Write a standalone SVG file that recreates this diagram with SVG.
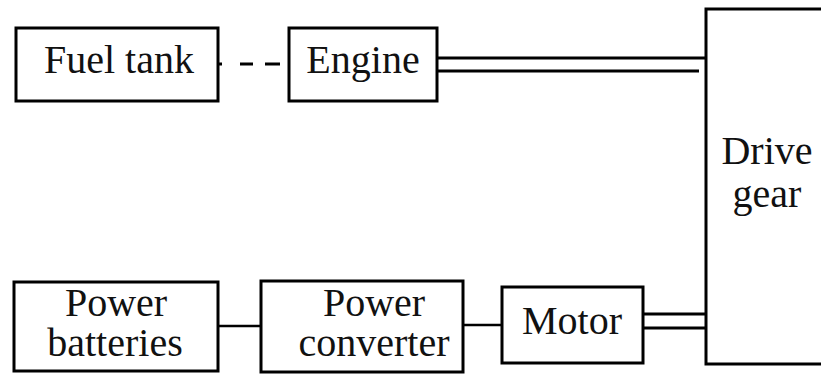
<svg xmlns="http://www.w3.org/2000/svg" width="821" height="374" viewBox="0 0 821 374">
<style>
.box{fill:#fff;stroke:#000;stroke-width:3}
.t{font-family:"Liberation Serif","Times New Roman",serif;font-size:40px;fill:#111;text-anchor:middle}
.ln{stroke:#000;stroke-width:2.5;fill:none}
.sh{stroke:#000;stroke-width:3;fill:none}
</style>
<g id="connectors">
<line class="sh" x1="218" y1="64" x2="289" y2="64" stroke-dasharray="4,18,13,12,15,9"/>
<line class="sh" x1="437" y1="58" x2="706" y2="58"/>
<line class="sh" x1="437" y1="71" x2="699" y2="71"/>
<line class="ln" x1="218" y1="326" x2="260" y2="326"/>
<line class="ln" x1="463" y1="325" x2="502" y2="325"/>
<line class="sh" x1="643" y1="314" x2="706" y2="314"/>
<line class="sh" x1="643" y1="328" x2="706" y2="328"/>
</g>
<g id="fuel-tank">
<rect class="box" x="16" y="28" width="202" height="73"/>
<text class="t" x="119" y="73">Fuel tank</text>
</g>
<g id="engine">
<rect class="box" x="289" y="28" width="148" height="73"/>
<text class="t" x="363" y="73">Engine</text>
</g>
<g id="drive-gear">
<rect class="box" x="706" y="9" width="120" height="355"/>
<text class="t" x="767" y="164">Drive</text>
<text class="t" x="767" y="207">gear</text>
</g>
<g id="power-batteries">
<rect class="box" x="14" y="282" width="204" height="89"/>
<text class="t" x="116" y="316">Power</text>
<text class="t" x="115" y="356">batteries</text>
</g>
<g id="power-converter">
<rect class="box" x="261" y="281" width="202" height="91"/>
<text class="t" x="374" y="316">Power</text>
<text class="t" x="374" y="356">converter</text>
</g>
<g id="motor">
<rect class="box" x="502" y="287" width="141" height="76"/>
<text class="t" x="572" y="334">Motor</text>
</g>
</svg>
